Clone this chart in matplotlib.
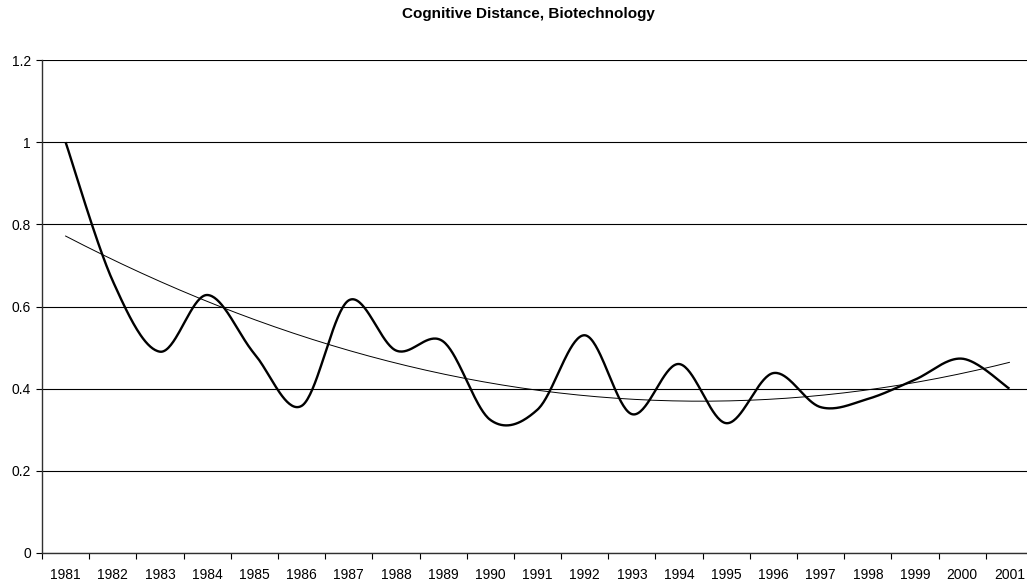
import matplotlib
matplotlib.use("Agg")
import matplotlib.pyplot as plt
import numpy as np
from matplotlib.ticker import FixedLocator, FuncFormatter

plt.rcParams["font.family"] = ["Liberation Sans", "DejaVu Sans"]

# Data
years = [str(y) for y in range(1981, 2002)]
distance = [1.00, 0.662, 0.490, 0.628, 0.485, 0.358, 0.615, 0.493, 0.515, 0.324,
            0.349, 0.530, 0.338, 0.460, 0.316, 0.438, 0.355, 0.375, 0.422, 0.473,
            0.400]
y_ticks = [0, 0.2, 0.4, 0.6, 0.8, 1.0, 1.2]


def excel_smooth(x, y, n=40):
    """Bezier smoothing like Excel's 'smoothed line' (Catmull-Rom control points)."""
    pts = np.column_stack([x, y]).astype(float)
    ext = np.vstack([pts[0], pts, pts[-1]])
    out = []
    t = np.linspace(0, 1, n)[:, None]
    for i in range(len(pts) - 1):
        p0, p3 = ext[i + 1], ext[i + 2]
        c1 = p0 + (ext[i + 2] - ext[i]) / 6
        c2 = p3 - (ext[i + 3] - ext[i + 1]) / 6
        seg = ((1 - t) ** 3) * p0 + 3 * ((1 - t) ** 2) * t * c1 + 3 * (1 - t) * t ** 2 * c2 + t ** 3 * p3
        out.append(seg if i == 0 else seg[1:])
    seg = np.vstack(out)
    return seg[:, 0], seg[:, 1]


x = np.arange(len(years))
fig = plt.figure(figsize=(10.27, 5.84), dpi=100)
ax = fig.add_axes([42 / 1027, 31 / 584, 991 / 1027, 493 / 584])

sx, sy = excel_smooth(x, distance)
ax.plot(sx, sy, color="black", lw=1.7, zorder=3, solid_capstyle="butt")

# polynomial (order 2) trendline as in the spreadsheet
coef = np.polyfit(x + 1, distance, 2)
tx = np.linspace(0, len(years) - 1, 200)
ax.plot(tx, np.polyval(coef, tx + 1), color="black", lw=0.7, zorder=2)

ax.set_xlim(-0.5, len(years) - 0.5)
ax.set_ylim(0, 1.2)
ax.yaxis.set_major_locator(FixedLocator(y_ticks))
ax.yaxis.set_major_formatter(FuncFormatter(lambda v, p: f"{v:g}"))
ax.grid(axis="y", color="black", lw=0.8)
ax.set_axisbelow(True)

ax.xaxis.set_major_locator(FixedLocator(np.arange(-0.5, len(years), 1.0)))
ax.xaxis.set_major_formatter(FuncFormatter(lambda v, p: ""))
ax.xaxis.set_minor_locator(FixedLocator(x))
ax.set_xticklabels(years, minor=True)
ax.tick_params(axis="x", which="minor", length=0, pad=11, labelsize=10)
ax.tick_params(axis="x", which="major", length=4, width=0.8, direction="out")
ax.tick_params(axis="y", length=4, width=0.8, direction="out", labelsize=10, pad=4)

for side in ("top", "right"):
    ax.spines[side].set_visible(False)
for side in ("left", "bottom"):
    ax.spines[side].set_color("#303030")
    ax.spines[side].set_linewidth(1.0)

fig.text(528 / 1027, 1 - 14 / 584, "Cognitive Distance, Biotechnology",
         ha="center", va="center", fontsize=11, fontweight="bold")

fig.savefig("out.png", dpi=100, facecolor="white")
